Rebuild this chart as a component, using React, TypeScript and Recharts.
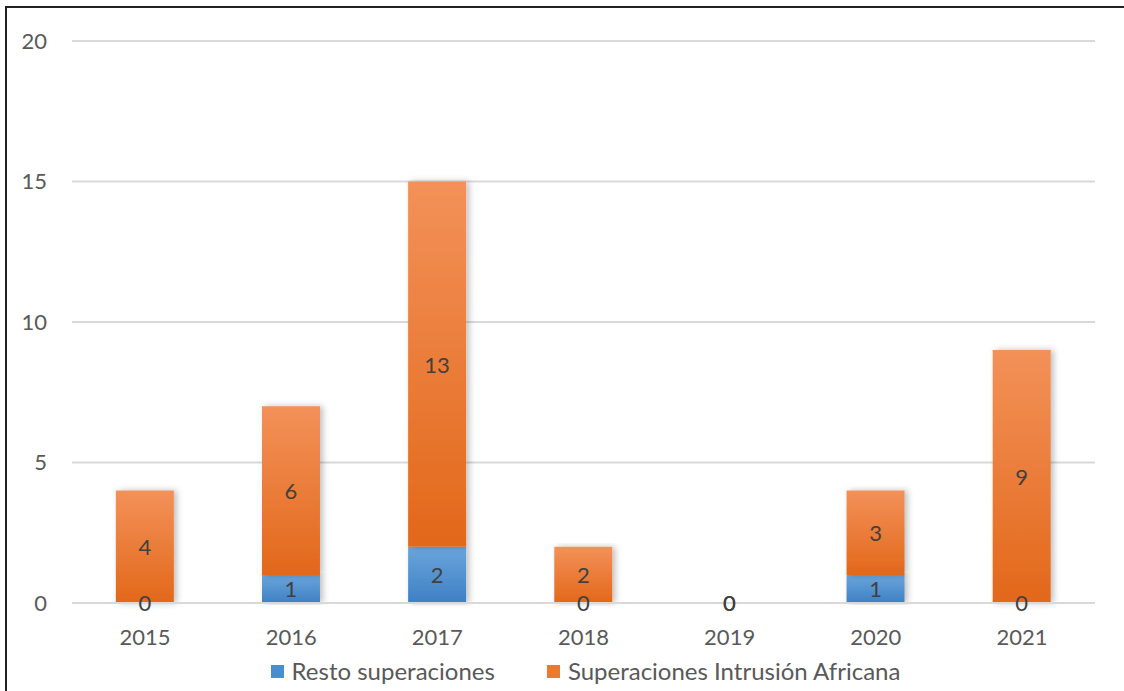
import React from 'react'
import { Bar, BarChart, CartesianGrid, LabelList, Legend, Rectangle, XAxis, YAxis } from 'recharts'

const years = ['2015', '2016', '2017', '2018', '2019', '2020', '2021']
const resto = [0, 1, 2, 0, 0, 1, 0]
const africana = [4, 6, 13, 2, 0, 3, 9]
const yTicks = [0, 5, 10, 15, 20]

const FONT = 'Lato, "Open Sans", sans-serif'

const data = years.map((year, i) => ({ year, resto: resto[i], africana: africana[i] }))

const legendItems = [
  { label: 'Resto superaciones', color: '#4a8ed0' },
  { label: 'Superaciones Intrusión Africana', color: '#ec7a2e' },
]

const ChartLegend = () => (
  <div style={{ display: 'flex', justifyContent: 'center', gap: 52, paddingTop: 14, paddingLeft: 64, fontFamily: FONT, fontSize: 24, color: '#595959', lineHeight: '24px' }}>
    {legendItems.map((it) => (
      <div key={it.label} style={{ display: 'flex', alignItems: 'center' }}>
        <span style={{ width: 13, height: 13, background: it.color, display: 'inline-block', marginRight: 8 }} />
        {it.label}
      </div>
    ))}
  </div>
)

// label centred in its segment
const SegmentLabel = (props: any) => {
  const { x, y, width, height, value } = props
  if (value === undefined || value === null) return null
  return (
    <text
      x={Number(x) + Number(width) / 2}
      y={Number(y) + Number(height) / 2}
      textAnchor="middle"
      dominantBaseline="central"
      fill="#404040"
      fontSize={22}
      fontFamily={FONT}
    >
      {String(value)}
    </text>
  )
}

// zero segments get a 1px placeholder (minPointSize) so the label shows; don't paint it
const makeShape = (key: string) => (props: any) => {
  if (!props.payload || props.payload[key] === 0) return <g />
  return <Rectangle {...props} />
}

export default function App() {
  return (
    <div style={{ position: 'fixed', top: 0, left: 0, width: 1124, height: 691, background: '#fff' }}>
      <div style={{ position: 'absolute', left: 5, top: 6, width: 1124, height: 691, borderLeft: '2px solid #222', borderTop: '2px solid #222' }} />
      <div style={{ position: 'absolute', left: 0, top: 0 }}>
        <BarChart
          width={1124}
          height={691}
          data={data}
          margin={{ top: 41, right: 29, left: 12, bottom: 8 }}
          barCategoryGap="30%"
        >
          <defs>
            <linearGradient id="gBlue" x1="0" y1="0" x2="0" y2="1">
              <stop offset="0%" stopColor="#6aa5dc" />
              <stop offset="100%" stopColor="#3e80c4" />
            </linearGradient>
            <linearGradient id="gOrange" x1="0" y1="0" x2="0" y2="1">
              <stop offset="0%" stopColor="#f39159" />
              <stop offset="100%" stopColor="#e2681a" />
            </linearGradient>
            <filter id="shadow" x="-20%" y="-5%" width="140%" height="110%">
              <feDropShadow dx="3" dy="0" stdDeviation="3" floodColor="#000" floodOpacity="0.25" />
            </filter>
          </defs>
          <CartesianGrid vertical={false} stroke="#d9d9d9" strokeWidth={2} />
          <XAxis
            dataKey="year"
            tickLine={false}
            axisLine={{ stroke: '#d9d9d9', strokeWidth: 2 }}
            tick={{ fill: '#595959', fontSize: 22, fontFamily: FONT }}
            tickMargin={20}
            height={42}
          />
          <YAxis
            domain={[0, 20]}
            ticks={yTicks}
            tickLine={false}
            axisLine={false}
            tick={{ fill: '#595959', fontSize: 22, fontFamily: FONT }}
            tickSize={0}
            tickMargin={25}
            width={60}
          />
          <Legend verticalAlign="bottom" height={38} content={() => <ChartLegend />} />
          <Bar dataKey="resto" stackId="a" fill="url(#gBlue)" filter="url(#shadow)" minPointSize={1} shape={makeShape('resto')} isAnimationActive={false}>
            <LabelList dataKey="resto" content={SegmentLabel} />
          </Bar>
          <Bar dataKey="africana" stackId="a" fill="url(#gOrange)" filter="url(#shadow)" minPointSize={1} shape={makeShape('africana')} isAnimationActive={false}>
            <LabelList dataKey="africana" content={SegmentLabel} />
          </Bar>
        </BarChart>
      </div>
    </div>
  )
}
